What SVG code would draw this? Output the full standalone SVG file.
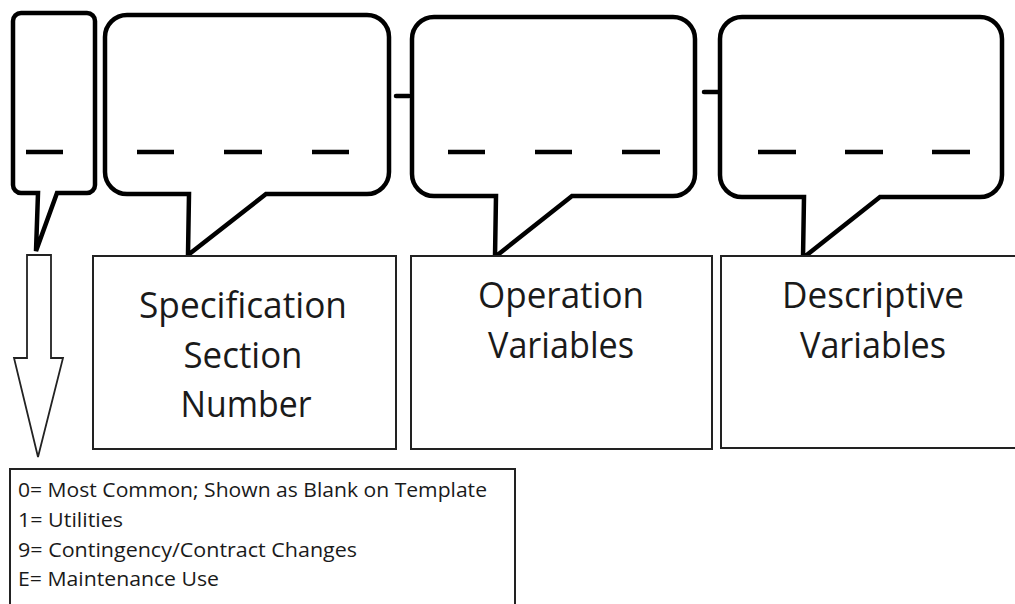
<svg xmlns="http://www.w3.org/2000/svg" width="1015" height="604" viewBox="0 0 1015 604">
<style>
.callout{fill:#fff;stroke:#000;stroke-width:4.5;stroke-linejoin:miter}
.dash{stroke:#000;stroke-width:4.5;stroke-linecap:butt}
.box{fill:#fff;stroke:#222;stroke-width:2}
.lbl{font-family:"Open Sans","Noto Sans","Liberation Sans",sans-serif;font-size:36px;fill:#1a1a1a;text-anchor:middle}
.leg{font-family:"Open Sans","Noto Sans","Liberation Sans",sans-serif;font-size:20.5px;fill:#1a1a1a}
.conn{stroke:#000;stroke-width:4.5;stroke-linecap:round;fill:none}
.blk{fill:#fff;stroke:#222;stroke-width:1.8;stroke-linejoin:miter}
</style>
<rect width="1015" height="604" fill="#fff"/>
<g id="connectors">
<line class="conn" x1="396" y1="96" x2="409" y2="96"/>
<line class="conn" x1="704" y1="92" x2="718" y2="92"/>
<polygon class="blk" points="27,255 51,255 51,358 63,358 38,457 14,358 27,358"/>
</g>
<g id="callout-code">
<path class="callout" d="M21,13 H87 A8 8 0 0 1 95,21 V185 A8 8 0 0 1 87,193 H57 L36,251 L38,193 H21 A8 8 0 0 1 13,185 V21 A8 8 0 0 1 21,13 Z"/>
<line class="dash" x1="26" y1="152" x2="63" y2="152"/>
</g>
<g id="callout-spec">
<path class="callout" d="M127,15 H367 A22 22 0 0 1 389,37 V172 A22 22 0 0 1 367,194 H266 L188,255 L189,194 H127 A22 22 0 0 1 105,172 V37 A22 22 0 0 1 127,15 Z"/>
<line class="dash" x1="137" y1="152" x2="174" y2="152"/>
<line class="dash" x1="224" y1="152" x2="262" y2="152"/>
<line class="dash" x1="312" y1="152" x2="349" y2="152"/>
</g>
<g id="callout-operation">
<path class="callout" d="M434,17 H673 A22 22 0 0 1 695,39 V174 A22 22 0 0 1 673,196 H572 L495,257 L496,196 H434 A22 22 0 0 1 412,174 V39 A22 22 0 0 1 434,17 Z"/>
<line class="dash" x1="448" y1="152" x2="485" y2="152"/>
<line class="dash" x1="535" y1="152" x2="572" y2="152"/>
<line class="dash" x1="622" y1="152" x2="660" y2="152"/>
</g>
<g id="callout-descriptive">
<path class="callout" d="M742,17 H980 A22 22 0 0 1 1002,39 V175 A22 22 0 0 1 980,197 H880 L803,258 L804,197 H742 A22 22 0 0 1 720,175 V39 A22 22 0 0 1 742,17 Z"/>
<line class="dash" x1="758" y1="152" x2="796" y2="152"/>
<line class="dash" x1="845" y1="152" x2="883" y2="152"/>
<line class="dash" x1="932" y1="152" x2="970" y2="152"/>
</g>
<g id="box-spec">
<rect class="box" x="93" y="256" width="303" height="193"/>
<text class="lbl" x="243" y="318" textLength="208" lengthAdjust="spacingAndGlyphs">Specification</text>
<text class="lbl" x="243" y="368" textLength="119" lengthAdjust="spacingAndGlyphs">Section</text>
<text class="lbl" x="246" y="417" textLength="131" lengthAdjust="spacingAndGlyphs">Number</text>
</g>
<g id="box-operation">
<rect class="box" x="411" y="256" width="301" height="193"/>
<text class="lbl" x="561" y="308" textLength="166" lengthAdjust="spacingAndGlyphs">Operation</text>
<text class="lbl" x="561" y="358" textLength="146" lengthAdjust="spacingAndGlyphs">Variables</text>
</g>
<g id="box-descriptive">
<rect class="box" x="721" y="256" width="304" height="192"/>
<text class="lbl" x="873" y="308" textLength="182" lengthAdjust="spacingAndGlyphs">Descriptive</text>
<text class="lbl" x="873" y="358" textLength="146" lengthAdjust="spacingAndGlyphs">Variables</text>
</g>
<g id="legend">
<rect class="box" x="10" y="469" width="505" height="150"/>
<text class="leg" x="18" y="497" textLength="469" lengthAdjust="spacingAndGlyphs">0= Most Common; Shown as Blank on Template</text>
<text class="leg" x="18" y="527" textLength="105" lengthAdjust="spacingAndGlyphs">1= Utilities</text>
<text class="leg" x="18" y="557" textLength="339" lengthAdjust="spacingAndGlyphs">9= Contingency/Contract Changes</text>
<text class="leg" x="18" y="586" textLength="201" lengthAdjust="spacingAndGlyphs">E= Maintenance Use</text>
</g>
</svg>
